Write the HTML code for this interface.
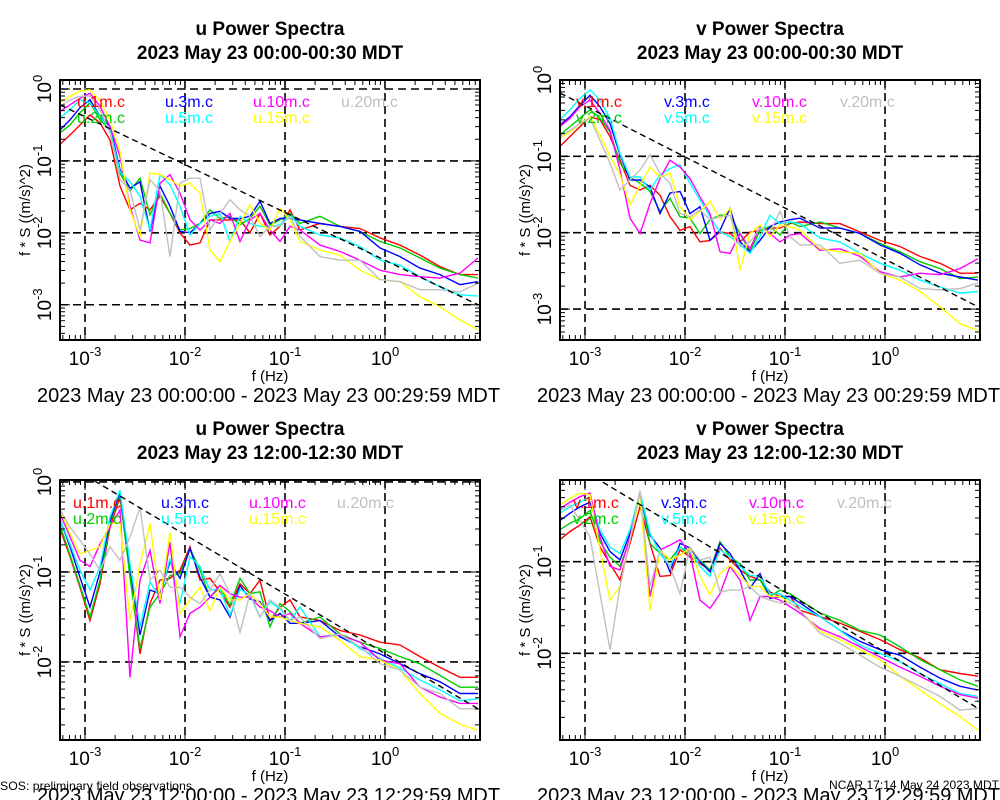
<!DOCTYPE html>
<html>
<head>
<meta charset="utf-8">
<style>
html,body{margin:0;padding:0;background:#fff;}
svg{display:block;font-family:"Liberation Sans",Arial,sans-serif;}
</style>
</head>
<body>
<svg id="chart" width="1000" height="800" viewBox="0 0 1000 800" xmlns="http://www.w3.org/2000/svg">
  <rect x="0" y="0" width="1000" height="800" fill="#fff"/>
  <text x="0" y="790" font-size="12" textLength="192" lengthAdjust="spacingAndGlyphs">SOS: preliminary field observations</text>
  <text x="829" y="789" font-size="12" textLength="170" lengthAdjust="spacingAndGlyphs">NCAR 17:14 May 24 2023 MDT</text>
</svg>
<script>
// Shared frequency grid (log10 Hz)
const logFreq = [-3.25,-3.15,-3.05,-2.95,-2.85,-2.75,-2.65,-2.55,-2.45,-2.35,-2.25,-2.15,-2.05,-1.95,-1.85,-1.75,-1.65,-1.55,-1.45,-1.35,-1.25,-1.15,-1.05,-0.95,-0.85,-0.65,-0.45,-0.25,-0.05,0.15,0.35,0.55,0.75,0.93];
const heights = ["1m","2m","3m","5m","10m","15m","20m"];
const seriesColors = ["#ff0000","#00cc00","#0000ff","#00ffff","#ff00ff","#ffff00","#c0c0c0"];
const xTickExps = [-3,-2,-1,0];

// Top-left: u, 00:00-00:30 (values are log10 of f*S)
const tl_1m = [-0.77,-0.64,-0.50,-0.36,-0.47,-0.71,-1.35,-1.68,-1.59,-1.68,-1.49,-1.73,-2.00,-2.17,-2.14,-1.82,-1.82,-1.82,-1.82,-2.00,-1.73,-2.03,-1.91,-1.68,-1.96,-1.87,-1.91,-1.94,-2.07,-2.17,-2.31,-2.47,-2.58,-2.58];
const tl_2m = [-0.61,-0.50,-0.33,-0.19,-0.43,-0.57,-1.17,-1.42,-1.24,-1.75,-1.45,-1.73,-1.96,-1.94,-1.87,-1.68,-1.80,-1.77,-1.89,-1.80,-1.63,-1.89,-1.82,-1.73,-1.87,-1.77,-1.91,-1.98,-2.12,-2.21,-2.35,-2.49,-2.58,-2.63];
const tl_3m = [-0.57,-0.43,-0.26,-0.15,-0.38,-0.52,-1.12,-1.38,-1.29,-1.98,-1.35,-1.63,-1.98,-2.00,-1.87,-1.73,-1.70,-1.80,-1.80,-1.77,-1.56,-1.87,-1.80,-1.80,-1.82,-1.87,-1.91,-1.98,-2.21,-2.33,-2.49,-2.58,-2.72,-2.68];
const tl_5m = [-0.40,-0.29,-0.15,-0.19,-0.38,-0.57,-1.15,-1.29,-1.49,-1.96,-1.19,-1.33,-1.63,-2.03,-1.87,-1.77,-1.73,-2.12,-1.77,-1.87,-1.91,-1.91,-1.89,-1.75,-1.91,-2.03,-2.07,-2.19,-2.38,-2.45,-2.61,-2.75,-2.86,-2.88];
const tl_10m = [-0.31,-0.22,-0.13,-0.06,-0.24,-0.52,-0.94,-1.63,-2.10,-2.14,-1.31,-1.19,-1.45,-1.82,-1.96,-1.82,-1.87,-1.73,-2.12,-1.82,-1.73,-1.96,-2.12,-1.91,-1.96,-2.17,-2.26,-2.38,-2.52,-2.58,-2.61,-2.63,-2.56,-2.35];
const tl_15m = [-0.19,-0.10,-0.03,-0.01,-0.17,-0.43,-0.87,-1.68,-2.05,-1.17,-1.19,-1.26,-1.35,-1.31,-1.45,-2.24,-2.40,-2.12,-1.87,-1.61,-1.87,-1.96,-1.66,-1.82,-2.12,-2.24,-2.31,-2.52,-2.65,-2.68,-2.89,-3.03,-3.21,-3.35];
const tl_20m = [-0.24,-0.15,-0.10,-0.10,-0.29,-0.61,-1.26,-1.40,-1.96,-1.26,-1.42,-2.33,-1.31,-1.24,-1.24,-1.96,-1.73,-1.54,-1.68,-1.77,-2.05,-1.91,-1.91,-1.77,-2.05,-2.33,-2.38,-2.38,-2.65,-2.68,-2.79,-2.79,-2.82,-2.70];
const tl_ref = [-0.22,-3.00];

// Top-right: v, 00:00-00:30
const tr_1m = [-0.87,-0.74,-0.61,-0.48,-0.52,-0.74,-1.05,-1.38,-1.44,-1.38,-1.51,-1.79,-1.97,-1.92,-2.12,-2.10,-1.99,-2.01,-2.12,-1.99,-1.97,-1.94,-1.94,-1.88,-1.86,-1.88,-1.88,-1.99,-2.10,-2.18,-2.31,-2.40,-2.53,-2.53];
const tr_2m = [-0.72,-0.61,-0.50,-0.39,-0.50,-0.68,-1.09,-1.27,-1.35,-1.46,-1.72,-1.55,-1.79,-1.81,-2.01,-1.83,-1.77,-1.77,-2.01,-2.25,-1.97,-1.92,-2.03,-1.86,-1.92,-1.86,-1.94,-2.01,-2.14,-2.25,-2.38,-2.47,-2.60,-2.58];
const tr_3m = [-0.59,-0.48,-0.33,-0.20,-0.35,-0.57,-0.98,-1.31,-1.31,-1.40,-1.75,-1.48,-1.46,-1.75,-1.66,-2.10,-1.97,-1.68,-2.12,-2.25,-2.10,-1.92,-1.86,-1.83,-1.81,-1.94,-1.94,-2.01,-2.16,-2.27,-2.42,-2.53,-2.58,-2.62];
const tr_5m = [-0.52,-0.39,-0.24,-0.13,-0.26,-0.50,-0.96,-1.27,-1.27,-1.44,-1.24,-1.16,-1.11,-1.35,-1.57,-1.79,-1.99,-2.05,-2.16,-2.27,-2.05,-1.77,-1.88,-1.86,-1.88,-2.07,-2.12,-2.27,-2.40,-2.49,-2.62,-2.71,-2.79,-2.77];
const tr_10m = [-0.61,-0.50,-0.35,-0.26,-0.44,-0.66,-1.18,-1.81,-2.01,-1.62,-1.29,-1.05,-1.14,-1.29,-1.53,-1.75,-2.25,-2.27,-2.01,-2.21,-1.92,-2.01,-2.12,-2.03,-2.01,-2.23,-2.21,-2.31,-2.51,-2.58,-2.53,-2.55,-2.47,-2.34];
const tr_15m = [-0.76,-0.68,-0.57,-0.48,-0.72,-1.00,-1.24,-1.64,-1.38,-1.14,-1.27,-1.22,-1.66,-1.83,-1.72,-1.59,-1.83,-1.68,-2.49,-2.01,-1.90,-2.05,-1.90,-1.92,-1.97,-2.21,-2.25,-2.27,-2.53,-2.62,-2.77,-2.97,-3.19,-3.28];
const tr_20m = [-0.74,-0.66,-0.57,-0.50,-0.79,-1.09,-1.44,-1.31,-1.18,-0.98,-1.22,-1.35,-1.75,-1.79,-1.70,-1.83,-1.79,-1.77,-2.18,-2.12,-1.94,-1.99,-1.72,-2.05,-2.16,-2.16,-2.40,-2.36,-2.53,-2.58,-2.73,-2.75,-2.73,-2.66];
const tr_ref = [-0.17,-2.97];

// Bottom-left: u, 12:00-12:30
const bl_1m = [-0.52,-0.83,-1.17,-1.54,-1.13,-0.50,-0.17,-1.02,-1.91,-1.35,-1.09,-1.07,-0.98,-0.72,-1.09,-1.07,-1.22,-1.39,-1.13,-1.24,-1.09,-1.54,-1.39,-1.31,-1.50,-1.54,-1.65,-1.70,-1.78,-1.81,-1.94,-2.06,-2.17,-2.17];
const bl_2m = [-0.48,-0.81,-1.15,-1.50,-1.09,-0.46,-0.13,-1.06,-1.85,-1.39,-1.24,-1.04,-1.02,-0.74,-0.98,-1.28,-1.17,-1.37,-1.07,-1.24,-1.22,-1.61,-1.35,-1.44,-1.57,-1.50,-1.69,-1.78,-1.85,-1.94,-2.02,-2.15,-2.28,-2.28];
const bl_3m = [-0.41,-0.72,-1.06,-1.39,-1.00,-0.43,-0.11,-0.94,-1.70,-1.20,-1.24,-0.89,-1.07,-0.74,-1.06,-1.28,-1.31,-1.50,-1.15,-1.30,-1.33,-1.54,-1.46,-1.57,-1.57,-1.54,-1.72,-1.83,-1.91,-2.02,-2.13,-2.22,-2.35,-2.35];
const bl_5m = [-0.41,-0.69,-0.98,-1.20,-0.94,-0.39,-0.09,-0.91,-1.61,-1.11,-1.28,-0.85,-1.35,-0.83,-0.94,-1.20,-1.19,-1.48,-1.19,-1.26,-1.50,-1.33,-1.41,-1.54,-1.39,-1.72,-1.69,-1.85,-1.96,-2.07,-2.20,-2.31,-2.43,-2.41];
const bl_10m = [-0.35,-0.61,-0.87,-0.94,-0.69,-0.50,-0.31,-2.17,-1.09,-0.76,-1.35,-0.67,-1.72,-1.46,-1.39,-1.28,-1.15,-1.24,-1.28,-1.28,-1.39,-1.43,-1.50,-1.46,-1.57,-1.72,-1.70,-1.78,-1.98,-2.02,-2.28,-2.39,-2.46,-2.46];
const bl_15m = [-0.31,-0.57,-0.80,-0.76,-0.72,-0.46,-0.46,-1.54,-0.91,-0.46,-1.31,-0.56,-1.46,-1.31,-1.17,-1.43,-1.17,-1.31,-1.31,-1.24,-1.35,-1.50,-1.50,-1.54,-1.57,-1.61,-1.76,-1.94,-1.98,-2.09,-2.35,-2.57,-2.69,-2.76];
const bl_20m = [-0.31,-0.50,-0.65,-0.80,-0.98,-0.72,-0.87,-0.61,-0.28,-1.09,-0.98,-1.17,-1.17,-1.28,-1.35,-1.20,-1.02,-1.24,-1.67,-1.24,-1.50,-1.31,-1.39,-1.54,-1.50,-1.74,-1.69,-1.83,-2.02,-2.09,-2.28,-2.35,-2.52,-2.52];
const bl_ref = [0.24,-2.52];

// Bottom-right: v, 12:00-12:30
const br_1m = [-0.76,-0.67,-0.60,-0.51,-0.84,-1.02,-1.20,-0.80,-0.40,-0.80,-1.16,-1.15,-0.87,-0.95,-1.02,-1.09,-0.85,-0.98,-1.09,-1.16,-1.20,-1.33,-1.38,-1.38,-1.53,-1.60,-1.67,-1.76,-1.85,-1.96,-2.05,-2.18,-2.22,-2.25];
const br_2m = [-0.65,-0.58,-0.53,-0.44,-0.78,-0.95,-1.05,-0.76,-0.25,-0.80,-0.91,-0.98,-0.84,-0.93,-0.98,-1.09,-0.78,-0.95,-1.02,-1.20,-1.20,-1.38,-1.31,-1.35,-1.42,-1.56,-1.64,-1.75,-1.80,-1.93,-2.07,-2.18,-2.29,-2.36];
const br_3m = [-0.55,-0.47,-0.40,-0.35,-0.69,-0.89,-0.98,-0.69,-0.25,-0.71,-0.85,-1.11,-0.80,-0.85,-1.00,-1.11,-0.80,-0.91,-1.09,-1.29,-1.13,-1.40,-1.38,-1.38,-1.45,-1.60,-1.75,-1.87,-1.96,-2.02,-2.15,-2.27,-2.36,-2.40];
const br_5m = [-0.47,-0.40,-0.35,-0.29,-0.65,-0.84,-0.91,-0.65,-0.24,-0.69,-0.91,-1.05,-0.84,-0.89,-1.05,-1.16,-0.87,-0.95,-1.05,-1.15,-1.16,-1.35,-1.35,-1.42,-1.49,-1.60,-1.75,-1.91,-2.00,-2.09,-2.22,-2.33,-2.44,-2.47];
const br_10m = [-0.42,-0.35,-0.29,-0.25,-0.73,-1.05,-1.09,-0.73,-0.25,-1.38,-0.87,-0.82,-0.76,-0.91,-1.42,-1.51,-1.35,-1.05,-1.20,-1.64,-1.38,-1.38,-1.42,-1.49,-1.56,-1.73,-1.82,-1.93,-2.04,-2.15,-2.25,-2.36,-2.45,-2.49];
const br_15m = [-0.38,-0.31,-0.25,-0.27,-0.87,-1.42,-1.27,-0.76,-0.29,-1.53,-0.87,-0.98,-0.93,-0.85,-1.16,-1.36,-1.13,-1.04,-1.15,-1.27,-1.27,-1.38,-1.38,-1.45,-1.53,-1.76,-1.85,-1.96,-2.07,-2.25,-2.40,-2.55,-2.69,-2.84];
const br_20m = [-0.44,-0.38,-0.55,-0.73,-1.35,-1.96,-1.27,-0.76,-0.22,-1.27,-0.87,-1.05,-1.35,-0.84,-0.98,-0.95,-1.33,-1.31,-1.31,-1.27,-1.38,-1.42,-1.45,-1.45,-1.53,-1.78,-1.89,-2.02,-2.15,-2.25,-2.36,-2.47,-2.62,-2.60];
const br_ref = [0.15,-2.60];

const NS = "http://www.w3.org/2000/svg";
const svg = document.getElementById("chart");

function mk(tag, attrs, parent) {
  const el = document.createElementNS(NS, tag);
  for (const k in attrs) el.setAttribute(k, attrs[k]);
  (parent || svg).appendChild(el);
  return el;
}

function drawPlot(p) {
  const g = mk("g", {});
  
  
  const xMin = -3.25, xMax = 0.95;
  const sx = v => p.x0 + (v - xMin) / (xMax - xMin) * p.w;
  const sy = v => p.y0 + (p.yTop - v) / (p.yTop - p.yBot) * p.h;
  const cx = p.x0 + p.w / 2;

  // titles
  const t1 = mk("text", {x: cx, y: p.y0 - 45, "text-anchor": "middle", "font-size": 19, "font-weight": "bold"}, g);
  t1.textContent = p.comp + " Power Spectra";
  
  
  const t2 = mk("text", {x: cx, y: p.y0 - 21, "text-anchor": "middle", "font-size": 19, "font-weight": "bold"}, g);
  t2.textContent = p.subtitle;
  
  

  // clip
  const cp = mk("clipPath", {id: "clip-" + p.id}, g);
  mk("rect", {x: p.x0, y: p.y0, width: p.w, height: p.h}, cp);

  // grid lines
  xTickExps.forEach(e => {
    const l = mk("line", {x1: sx(e), x2: sx(e), y1: p.y0, y2: p.y0 + p.h, stroke: "#000", "stroke-width": 1.6, "stroke-dasharray": "8,5"}, g);
    
    
  });
  p.yTicks.forEach(e => {
    const l = mk("line", {x1: p.x0, x2: p.x0 + p.w, y1: sy(e), y2: sy(e), stroke: "#000", "stroke-width": 1.6, "stroke-dasharray": "8,5"}, g);
    
    
  });

  // series
  const sg = mk("g", {"clip-path": "url(#clip-" + p.id + ")"}, g);
  p.series.forEach((vals, i) => {
    const pts = vals.map((v, j) => sx(logFreq[j]).toFixed(1) + "," + sy(v).toFixed(1)).join(" ");
    const pl = mk("polyline", {points: pts, fill: "none", stroke: seriesColors[i], "stroke-width": 1.4, "stroke-linejoin": "miter"}, sg);
    
    
  });
  const rl = mk("line", {x1: sx(xMin), y1: sy(p.ref[0]), x2: sx(0.93), y2: sy(p.ref[1]), stroke: "#000", "stroke-width": 1.4, "stroke-dasharray": "6,4"}, sg);
  
  

  // frame
  const fr = mk("rect", {x: p.x0, y: p.y0, width: p.w, height: p.h, fill: "none", stroke: "#000", "stroke-width": 2}, g);
  
  

  // minor / major ticks
  let td = "";
  for (let d = -4; d <= 1; d++) {
    for (let m = 1; m <= 9; m++) {
      const v = d + Math.log10(m);
      if (v < xMin || v > xMax) continue;
      const len = m === 1 ? 10 : 5;
      const x = sx(v);
      td += `M${x},${p.y0 + p.h}v${-len}M${x},${p.y0}v${len}`;
    }
    for (let m = 1; m <= 9; m++) {
      const v = d + Math.log10(m);
      if (v > p.yTop || v < p.yBot) continue;
      const len = m === 1 ? 10 : 5;
      const y = sy(v);
      td += `M${p.x0},${y}h${len}M${p.x0 + p.w},${y}h${-len}`;
    }
  }
  const tk = mk("path", {d: td, stroke: "#000", "stroke-width": 1, fill: "none"}, g);
  
  

  // x tick labels
  xTickExps.forEach(e => {
    const t = mk("text", {x: sx(e), y: p.y0 + p.h + 25, "text-anchor": "middle", "font-size": 19}, g);
    t.textContent = "10";
    const ts = mk("tspan", {dy: -9, "font-size": 13}, t);
    ts.textContent = String(e);
    
    
  });
  // y tick labels
  p.yTicks.forEach(e => {
    const t = mk("text", {transform: `translate(${p.x0 - 9},${sy(e)}) rotate(-90)`, "text-anchor": "middle", "font-size": 19}, g);
    t.textContent = "10";
    const ts = mk("tspan", {dy: -9, "font-size": 13}, t);
    ts.textContent = String(e);
    
    
  });

  // axis titles
  const xt = mk("text", {x: cx, y: p.y0 + p.h + 41, "text-anchor": "middle", "font-size": 15}, g);
  xt.textContent = "f (Hz)";
  
  
  const yt = mk("text", {transform: `translate(${p.x0 - 30},${p.y0 + p.h / 2}) rotate(-90)`, "text-anchor": "middle", "font-size": 15}, g);
  yt.textContent = "f * S ((m/s)^2)";
  
  
  const dt = mk("text", {x: p.x0 - 23, y: p.y0 + p.h + 62, "font-size": 20, textLength: 463, lengthAdjust: "spacingAndGlyphs"}, g);
  dt.textContent = p.range;
  
  

  // legend
  p.series.forEach((vals, i) => {
    const col = i === 6 ? 3 : Math.floor(i / 2) + (i >= 4 ? 0 : 0);
    const colIdx = [0, 0, 1, 1, 2, 2, 3][i];
    const row = [0, 1, 0, 1, 0, 1, 0][i];
    const t = mk("text", {x: p.legX + colIdx * 88, y: p.legY + row * 16, "font-size": 16, fill: seriesColors[i]}, g);
    t.textContent = p.comp + "." + heights[i] + ".c";
    
    
  });
}

drawPlot({id: "u-morning", comp: "u", subtitle: "2023 May 23 00:00-00:30 MDT", range: "2023 May 23 00:00:00 - 2023 May 23 00:29:59 MDT",
  x0: 60, y0: 80, w: 420, h: 260, yTop: 0.125, yBot: -3.49, yTicks: [0, -1, -2, -3],
  series: [tl_1m, tl_2m, tl_3m, tl_5m, tl_10m, tl_15m, tl_20m], ref: tl_ref, legX: 77, legY: 107});
drawPlot({id: "v-morning", comp: "v", subtitle: "2023 May 23 00:00-00:30 MDT", range: "2023 May 23 00:00:00 - 2023 May 23 00:29:59 MDT",
  x0: 560, y0: 80, w: 420, h: 260, yTop: 0.0, yBot: -3.405, yTicks: [0, -1, -2, -3],
  series: [tr_1m, tr_2m, tr_3m, tr_5m, tr_10m, tr_15m, tr_20m], ref: tr_ref, legX: 576, legY: 107});
drawPlot({id: "u-noon", comp: "u", subtitle: "2023 May 23 12:00-12:30 MDT", range: "2023 May 23 12:00:00 - 2023 May 23 12:29:59 MDT",
  x0: 60, y0: 480, w: 420, h: 260, yTop: 0.022, yBot: -2.867, yTicks: [0, -1, -2],
  series: [bl_1m, bl_2m, bl_3m, bl_5m, bl_10m, bl_15m, bl_20m], ref: bl_ref, legX: 73, legY: 508});
drawPlot({id: "v-noon", comp: "v", subtitle: "2023 May 23 12:00-12:30 MDT", range: "2023 May 23 12:00:00 - 2023 May 23 12:29:59 MDT",
  x0: 560, y0: 480, w: 420, h: 260, yTop: -0.108, yBot: -2.946, yTicks: [-1, -2],
  series: [br_1m, br_2m, br_3m, br_5m, br_10m, br_15m, br_20m], ref: br_ref, legX: 573, legY: 508});
</script>
</body>
</html>
